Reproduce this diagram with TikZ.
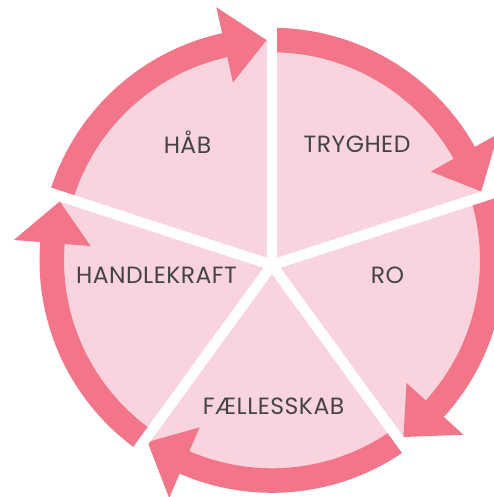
\documentclass[tikz,border=0pt]{standalone}
\usepackage{fontspec}
\setmainfont{Poppins}
\newfontfamily\lblfont{Poppins}[LetterSpace=2]
\definecolor{petal}{HTML}{F9D4DF}
\definecolor{coral}{HTML}{F2758A}
\definecolor{ink}{HTML}{444444}
\begin{document}
\begin{tikzpicture}[x=1pt,y=1pt,
  body/.style={draw=coral, line width=24.5pt},
  head/.style={fill=coral},
  gap/.style={draw=white, line width=10.5pt},
  lbl/.style={font=\lblfont\fontsize{23.5}{23.5}\selectfont, text=ink, inner sep=0pt, anchor=base}]
\useasboundingbox (0,0) rectangle (494,497);
\clip (0,0) rectangle (494,497);
\coordinate (R) at (272,236.7);
\coordinate (S) at (272,232);
\fill[petal] (R) circle[radius=221pt];
\foreach \s/\b/\t in {163.16/102.4/91.4, 90/29.2/18.2, 16.84/-42.35/-53.35, -54.72/-113.4/-124.4, -125.28/-184.5/-195.5}{
  \draw[body] ([shift={(R)}]\s:220.25pt) arc[start angle=\s, end angle=\b-0.5, radius=220.25pt];
  \fill[head] ([shift={(R)}]\b:182pt) -- ([shift={(R)}]\t:220.25pt) -- ([shift={(R)}]\b:259pt) -- cycle;
}
\foreach \a in {90,18,-54,-126,162}{
  \draw[gap] (S) -- ++(\a:300pt);
}
\fill[white] (S) circle[radius=6pt];
\node[lbl] (hab) at (187.5,343.7) {HÅB};
\node[lbl] (tryg) at (357,344) {TRYGHED};
\node[lbl] (ro) at (387.5,213.7) {RO};
\node[lbl] (handle) at (156.5,213.7) {HANDLEKRAFT};
\node[lbl] (faell) at (273.5,82) {FÆLLESSKAB};
\end{tikzpicture}
\end{document}
